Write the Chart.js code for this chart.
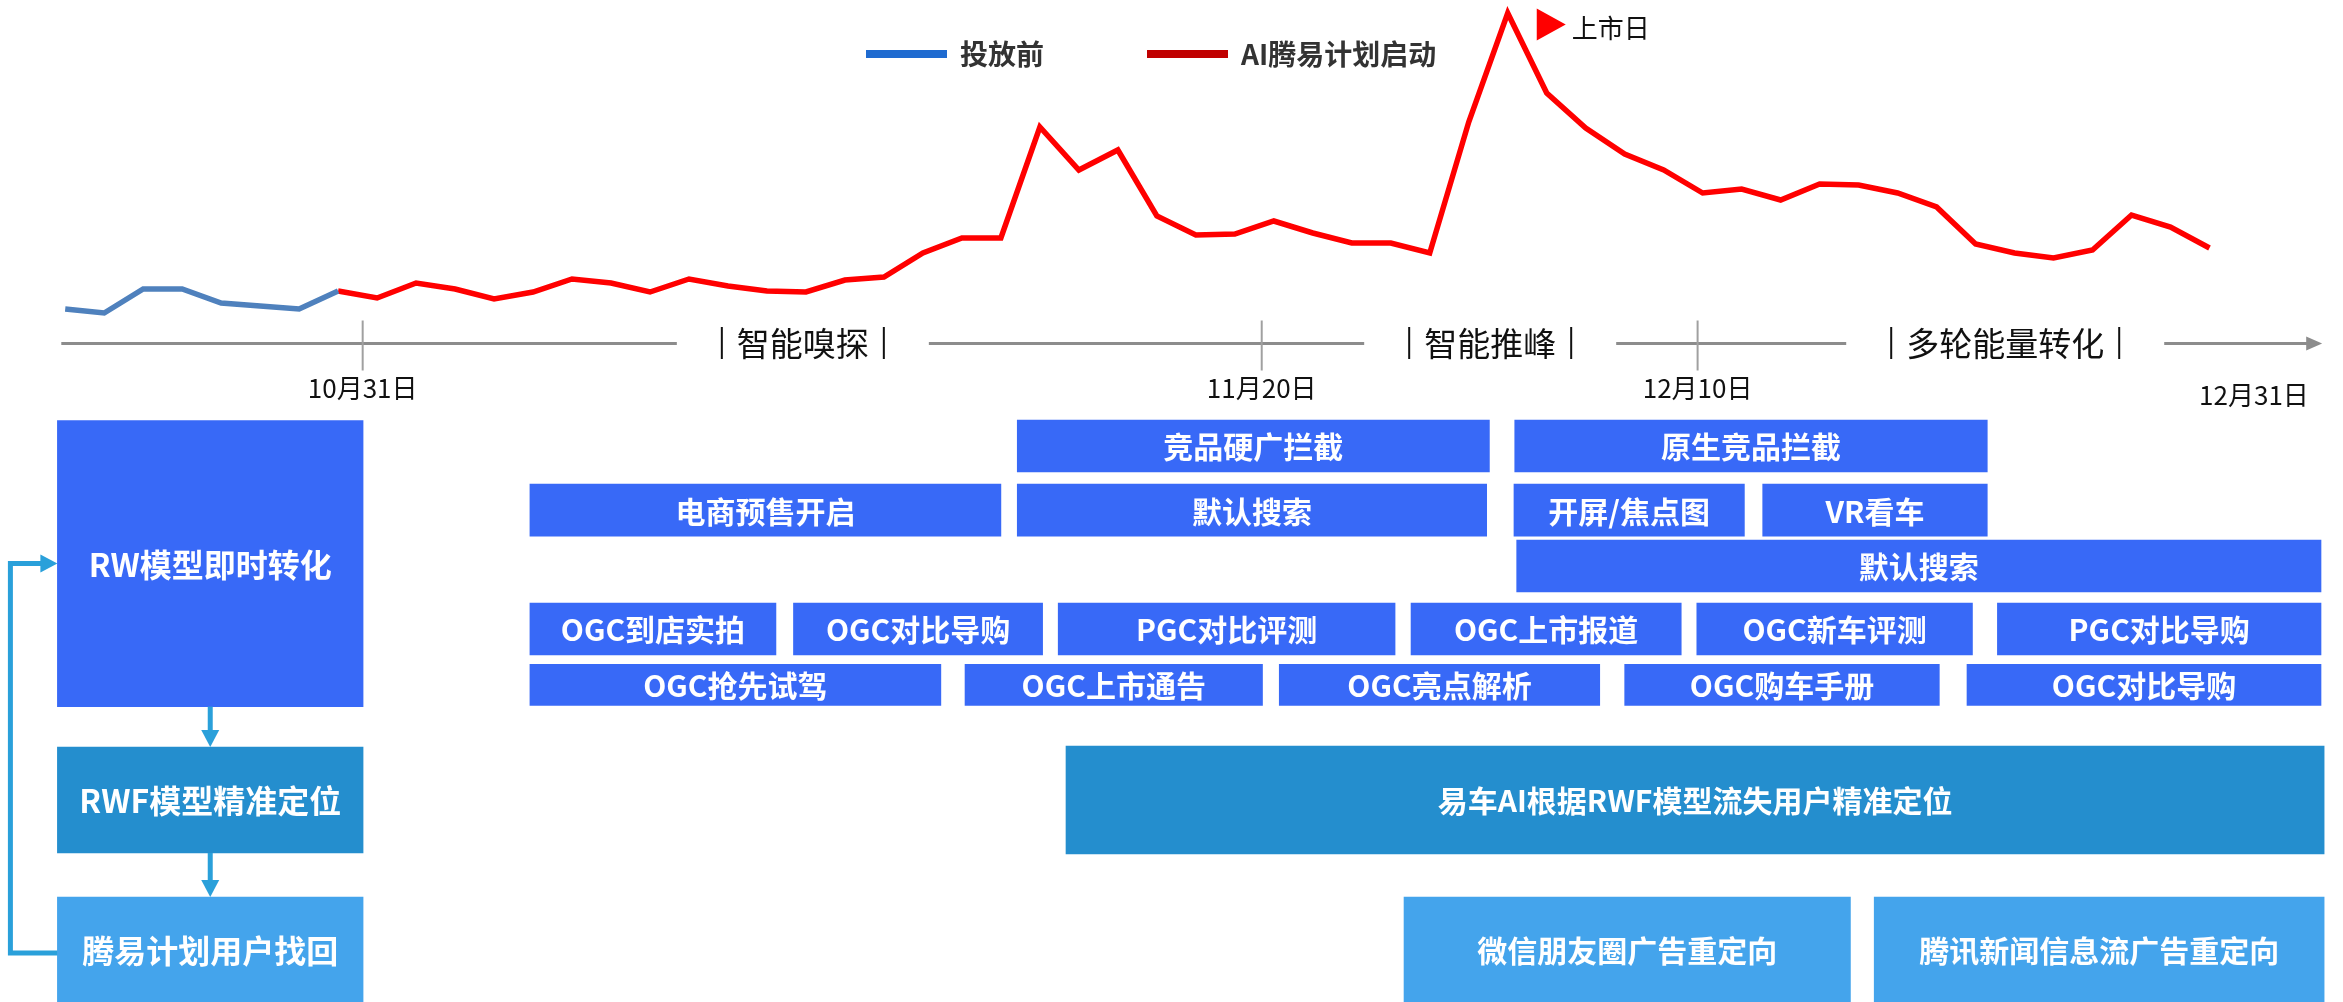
<!DOCTYPE html>
<html>
<head>
<meta charset="utf-8">
<script src="https://cdn.jsdelivr.net/npm/chart.js@4.4.0/dist/chart.umd.min.js"></script>
<style>
  html, body { margin: 0; padding: 0; background: #fff; }
  #wrap { position: relative; width: 2343px; height: 1002px; overflow: hidden; }
  #wrap canvas { position: absolute; left: 0; top: 0; }
</style>
</head>
<body>
<div id="wrap">
  <canvas id="lineChart" width="2343" height="1002"></canvas>
  <canvas id="boxChart" width="2343" height="1002"></canvas>
</div>
<script>
const FONT = '"Noto Sans CJK SC", "Noto Sans", sans-serif';

// daily points (56 samples)
const days = ['1','2','3','4','5','6','7','8','9','10','11','12','13','14','15','16','17','18','19','20',
  '21','22','23','24','25','26','27','28','29','30','31','32','33','34','35','36','37','38','39','40',
  '41','42','43','44','45','46','47','48','49','50','51','52','53','54','55','56'];

// 投放前 (points 1-8)
const beforeValues = [21, 17, 41, 41, 27, 24, 21, 39];
// AI腾易计划启动 (from point 8 on)
const afterStart = 7;
const afterValues = [39, 32, 47, 41, 31, 38, 51, 47, 38, 51, 44, 39, 38, 50, 53, 77, 92, 92, 203, 160,
  180, 114, 95, 96, 109, 97, 87, 87, 77, 208, 317, 237, 202, 176, 160, 137, 141, 130, 146, 145,
  137, 123, 86, 77, 72, 80, 115, 103, 82];

const seriesNames = ['投放前', 'AI腾易计划启动'];
const legendSwatch = ['#1F6BD0', '#C00000'];

const launchIndex = 37;
const launchLabel = '上市日';

// timeline (positions in day-index units)
const axisFrom = -0.1;
const axisTo = 57.89;
const dateTicks = ['10月31日', '11月20日', '12月10日', '12月31日'];
const dateTickAt = [7.63, 30.69, 41.87, 56.14];
const phaseLabels = ['智能嗅探', '智能推峰', '多轮能量转化'];
const phaseAt = [18.92, 36.55, 49.76];

// schedule boxes
const boxLabels = ['RW模型即时转化', 'RWF模型精准定位', '腾易计划用户找回',
  '竞品硬广拦截', '原生竞品拦截',
  '电商预售开启', '默认搜索', '开屏/焦点图', 'VR看车',
  '默认搜索',
  'OGC到店实拍', 'OGC对比导购', 'PGC对比评测', 'OGC上市报道', 'OGC新车评测', 'PGC对比导购',
  'OGC抢先试驾', 'OGC上市通告', 'OGC亮点解析', 'OGC购车手册', 'OGC对比导购',
  '易车AI根据RWF模型流失用户精准定位',
  '微信朋友圈广告重定向', '腾讯新闻信息流广告重定向'];
const boxFrom = [-0.2, -0.2, -0.2,
  24.42, 37.18,
  11.92, 24.42, 37.16, 43.54,
  37.23,
  11.92, 18.68, 25.47, 34.52, 41.85, 49.56,
  11.92, 23.08, 31.14, 40.00, 48.78,
  25.67,
  34.34, 46.40];
const boxTo = [7.64, 7.64, 7.64,
  36.53, 49.30,
  24.00, 36.46, 43.07, 49.30,
  57.86,
  18.23, 25.07, 34.11, 41.45, 48.92, 57.86,
  22.46, 30.71, 39.36, 48.07, 57.86,
  57.94,
  45.79, 57.94];
const boxLane = [2.96, 6.9, 9.4,
  1, 1,
  2.07, 2.07, 2.07, 2.07,
  3,
  4.05, 4.05, 4.05, 4.05, 4.05, 4.05,
  4.98, 4.98, 4.98, 4.98, 4.98,
  6.9,
  9.4, 9.4];
const boxKind = ['rw', 'rwf', 'back',
  'main', 'main',
  'main', 'main', 'main', 'main',
  'main',
  'main', 'main', 'main', 'main', 'main', 'main',
  'slim', 'slim', 'slim', 'slim', 'slim',
  'model',
  'retarget', 'retarget'];

const kindStyle = {
  rw:       { color: '#3869F7', thickness: 286, font: 32 },
  rwf:      { color: '#248ECE', thickness: 106, font: 32 },
  back:     { color: '#44A4EC', thickness: 106, font: 32 },
  main:     { color: '#3869F7', thickness: 52,  font: 30 },
  slim:     { color: '#3869F7', thickness: 41,  font: 30 },
  model:    { color: '#248ECE', thickness: 108, font: 30 },
  retarget: { color: '#44A4EC', thickness: 106, font: 30 }
};

const PAD_LEFT = 65.2, PAD_RIGHT = 133.5;

// ---------- line chart ----------
var beforeData = days.map(function(d, i) { return i < beforeValues.length ? beforeValues[i] : null; });
var afterData = days.map(function(d, i) { return i >= afterStart ? afterValues[i - afterStart] : null; });

const timelinePlugin = {
  id: 'timeline',
  afterDraw: function(chart) {
    var ctx = chart.ctx;
    var xs = chart.scales.x;
    var axisY = 343.5;
    ctx.save();

    // legend
    var lx = 866, ly = 54;
    ctx.font = 'bold 28px ' + FONT;
    ctx.textBaseline = 'middle';
    ctx.textAlign = 'left';
    chart.data.datasets.forEach(function(ds, i) {
      ctx.fillStyle = legendSwatch[i];
      ctx.fillRect(lx, ly - 4, 81, 8);
      ctx.fillStyle = '#333333';
      ctx.fillText(ds.label, lx + 94, ly);
      lx += 94 + ctx.measureText(ds.label).width + 103;
    });

    // launch marker
    var px = xs.getPixelForValue(launchIndex);
    ctx.fillStyle = '#FF0000';
    ctx.beginPath();
    ctx.moveTo(px + 29, 8.5);
    ctx.lineTo(px + 58, 24.5);
    ctx.lineTo(px + 29, 40.5);
    ctx.closePath();
    ctx.fill();
    ctx.fillStyle = '#111111';
    ctx.font = '26px ' + FONT;
    ctx.fillText(launchLabel, px + 64, 28);

    // axis line with arrow
    var x0 = xs.getPixelForValue(axisFrom), x1 = xs.getPixelForValue(axisTo);
    ctx.strokeStyle = '#8C8C8C';
    ctx.lineWidth = 3;
    ctx.beginPath();
    ctx.moveTo(x0, axisY);
    ctx.lineTo(x1 - 14, axisY);
    ctx.stroke();
    ctx.fillStyle = '#8C8C8C';
    ctx.beginPath();
    ctx.moveTo(x1 - 16, axisY - 7);
    ctx.lineTo(x1, axisY);
    ctx.lineTo(x1 - 16, axisY + 7);
    ctx.closePath();
    ctx.fill();

    // date ticks
    ctx.font = '26px ' + FONT;
    ctx.textAlign = 'center';
    dateTicks.forEach(function(t, i) {
      var tx = xs.getPixelForValue(dateTickAt[i]);
      var last = i === dateTicks.length - 1;
      if (!last) {
        ctx.strokeStyle = '#A0A0A0';
        ctx.lineWidth = 2;
        ctx.beginPath();
        ctx.moveTo(tx, 320.5);
        ctx.lineTo(tx, 370.5);
        ctx.stroke();
      }
      ctx.fillStyle = '#111111';
      ctx.fillText(t, tx, last ? 395 : 388);
    });

    // phase labels
    ctx.font = '33px ' + FONT;
    phaseLabels.forEach(function(p, i) {
      var cx = xs.getPixelForValue(phaseAt[i]);
      var w = ctx.measureText(p).width;
      var left = cx - w / 2 - 15, right = cx + w / 2 + 15;
      ctx.fillStyle = '#ffffff';
      ctx.fillRect(left - 45, axisY - 20, right - left + 90, 40);
      ctx.fillStyle = '#111111';
      ctx.fillText(p, cx, axisY);
      ctx.strokeStyle = '#111111';
      ctx.lineWidth = 2;
      ctx.beginPath();
      ctx.moveTo(left, 327); ctx.lineTo(left, 359);
      ctx.moveTo(right, 327); ctx.lineTo(right, 359);
      ctx.stroke();
    });
    ctx.restore();
  }
};

new Chart(document.getElementById('lineChart').getContext('2d'), {
  type: 'line',
  data: {
    labels: days,
    datasets: [{
      label: seriesNames[0],
      data: beforeData,
      borderColor: '#4F81BD',
      borderWidth: 5.5
    }, {
      label: seriesNames[1],
      data: afterData,
      borderColor: '#FF0000',
      borderWidth: 5.5
    }]
  },
  options: {
    responsive: false,
    animation: false,
    devicePixelRatio: 1,
    layout: { padding: { left: PAD_LEFT, right: PAD_RIGHT, top: 0, bottom: 672 } },
    plugins: { legend: { display: false }, tooltip: { enabled: false } },
    elements: { point: { radius: 0 }, line: { tension: 0 } },
    scales: {
      x: { display: false },
      y: { display: false, min: 0, max: 330 }
    }
  },
  plugins: [timelinePlugin]
});

// ---------- schedule boxes ----------
var kinds = Object.keys(kindStyle);
var boxDatasets = kinds.map(function(k) {
  var pts = [];
  boxLabels.forEach(function(lbl, i) {
    if (boxKind[i] === k) pts.push({ x: [boxFrom[i], boxTo[i]], y: boxLane[i], text: lbl });
  });
  return {
    label: k,
    data: pts,
    backgroundColor: kindStyle[k].color,
    barThickness: kindStyle[k].thickness,
    grouped: false,
    clip: false,
    borderWidth: 0
  };
});

function findBox(chart, kind) {
  var idx = kinds.indexOf(kind);
  var el = chart.getDatasetMeta(idx).data[0];
  var p = el.getProps(['x', 'y', 'base', 'height'], true);
  return { left: Math.min(p.x, p.base), right: Math.max(p.x, p.base), top: p.y - p.height / 2, bottom: p.y + p.height / 2, y: p.y };
}

function arrowDown(ctx, x, y0, y1) {
  ctx.beginPath();
  ctx.moveTo(x, y0);
  ctx.lineTo(x, y1 - 15);
  ctx.stroke();
  ctx.beginPath();
  ctx.moveTo(x - 9, y1 - 17);
  ctx.lineTo(x, y1);
  ctx.lineTo(x + 9, y1 - 17);
  ctx.closePath();
  ctx.fill();
}

const boxTextPlugin = {
  id: 'boxText',
  afterDatasetsDraw: function(chart) {
    var ctx = chart.ctx;
    ctx.save();
    ctx.textAlign = 'center';
    ctx.textBaseline = 'middle';
    ctx.fillStyle = '#ffffff';
    chart.data.datasets.forEach(function(ds, d) {
      var meta = chart.getDatasetMeta(d);
      ctx.font = 'bold ' + kindStyle[ds.label].font + 'px ' + FONT;
      meta.data.forEach(function(el, i) {
        var p = el.getProps(['x', 'y', 'base'], true);
        ctx.fillText(ds.data[i].text, (p.x + p.base) / 2, p.y + 1);
      });
    });

    // flow connectors on the left
    var rw = findBox(chart, 'rw'), rwf = findBox(chart, 'rwf'), back = findBox(chart, 'back');
    var cx = (rw.left + rw.right) / 2;
    ctx.strokeStyle = '#2AA0DA';
    ctx.fillStyle = '#2AA0DA';
    ctx.lineWidth = 5;
    arrowDown(ctx, cx, rw.bottom, rwf.top);
    arrowDown(ctx, cx, rwf.bottom, back.top);
    var loopX = back.left - 47;
    ctx.lineJoin = 'miter';
    ctx.beginPath();
    ctx.moveTo(back.left, back.y + 3);
    ctx.lineTo(loopX, back.y + 3);
    ctx.lineTo(loopX, rw.y);
    ctx.lineTo(rw.left - 15, rw.y);
    ctx.stroke();
    ctx.beginPath();
    ctx.moveTo(rw.left - 17, rw.y - 9);
    ctx.lineTo(rw.left, rw.y);
    ctx.lineTo(rw.left - 17, rw.y + 9);
    ctx.closePath();
    ctx.fill();
    ctx.restore();
  }
};

new Chart(document.getElementById('boxChart').getContext('2d'), {
  type: 'bar',
  data: { datasets: boxDatasets },
  options: {
    indexAxis: 'y',
    responsive: false,
    animation: false,
    devicePixelRatio: 1,
    layout: { padding: { left: PAD_LEFT, right: PAD_RIGHT, top: 386, bottom: 0 } },
    plugins: { legend: { display: false }, tooltip: { enabled: false } },
    scales: {
      x: { type: 'linear', display: false, min: 0, max: 55 },
      y: { type: 'linear', display: false, min: 0, max: 616 / 60, reverse: true, offset: false }
    }
  },
  plugins: [boxTextPlugin]
});
</script>
</body>
</html>
